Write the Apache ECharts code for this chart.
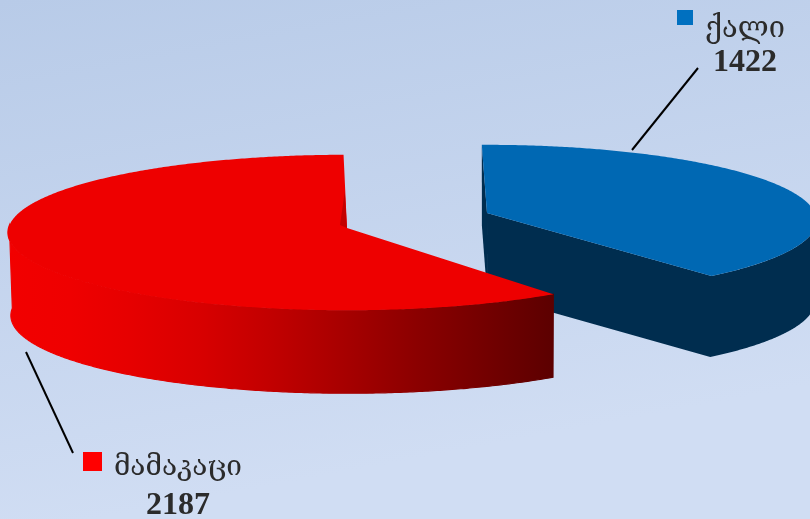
<!DOCTYPE html>
<html>
<head>
<meta charset="utf-8">
<style>html,body{margin:0;padding:0;background:#c4d4ee}#c{width:810px;height:519px}</style>
<script src="https://cdn.jsdelivr.net/npm/echarts@6/dist/echarts.min.js"></script>
</head>
<body>
<div id="c"></div>
<script>
// ---- data ----
var categories = ['ქალი', 'მამაკაცი'];
var values = [1422, 2187];

// ---- colours ----
var topColors = ['#0068b3', '#ee0000'];
var swatchColors = ['#0070c0', '#ff0000'];
var textColor = '#2b2b2b';
var blueWall = '#002d4f';
var redWallStops = [
  [8, '#f20000'], [70, '#ef0000'], [130, '#e60000'], [200, '#d80000'], [270, '#c20000'],
  [320, '#b00000'], [420, '#8a0000'], [553, '#5c0000']
];

// ---- 3D look of each slice (projection only, angles come from the values) ----
var slices = [
  { ax: 487, ay: 213, rx: 328, ry: 75, k: 0.1, start: -1, sweepScale: 1, depth: 81 },
  { ax: 347, ay: 228, rx: 338.5, ry: 77.5, k: 0.058, start: 144.5, sweepScale: 0.985, depth: 83 }
];
var vanishX = 500, shrink = 0.006;
var rightExtreme = 96, leftExtreme = 272;

var labels = [
  { swatch: [677, 10, 16, 15], nameX: 745, nameY: 29, nameSize: 29, valY: 63, line: [698, 68, 632, 150] },
  { swatch: [83, 452, 19, 19], nameX: 178, nameY: 468, nameSize: 28, valY: 506, line: [26, 352, 73, 453] }
];

var total = values.reduce(function (a, b) { return a + b; }, 0);

function project(g, deg, depth) {
  var t = deg * Math.PI / 180, u = Math.sin(t), v = -Math.cos(t), s = 1 / (1 - g.k * v);
  return lift(g.ax + g.rx * u * s, g.ay + g.ry * v * s, depth);
}
function lift(x, y, depth) {
  return depth ? [x + (vanishX - x) * shrink, y + depth] : [x, y];
}
function arc(g, a, b, depth) {
  var pts = [], n = Math.max(2, Math.ceil(Math.abs(b - a) * 2));
  for (var i = 0; i <= n; i++) pts.push(project(g, a + (b - a) * i / n, depth));
  return pts;
}
function poly(points, fill, seam) {
  return { type: 'polygon', shape: { points: points }, style: { fill: fill, stroke: seam ? fill : null, lineWidth: seam ? 1.2 : 0 }, silent: true };
}
function renderSlice(params, api) {
  var i = params.dataIndex, g = slices[i], value = api.value(0);
  var a = g.start, b = a + value / total * 360 * g.sweepScale;
  var apex = [g.ax, g.ay], apexLow = lift(g.ax, g.ay, g.depth);
  var kids = [];
  if (i === 0) {
    var rimA = project(g, a);
    // start-cut face, then end-cut face plus outer rim, both reaching under the top face
    kids.push(poly([apex, rimA, project(g, a, g.depth), apexLow], blueWall));
    kids.push(poly([apex, apexLow].concat(arc(g, b, rightExtreme, g.depth), arc(g, rightExtreme, b)), blueWall));
  } else {
    var stops = redWallStops.map(function (s) {
      return { offset: (s[0] - 8) / (553 - 8), color: s[1] };
    });
    var grad = { type: 'linear', x: 8, y: 0, x2: 553, y2: 0, global: true, colorStops: stops };
    kids.push(poly(arc(g, a, leftExtreme).concat(arc(g, leftExtreme, a, g.depth)), grad, true));
  }
  kids.push(poly([apex].concat(arc(g, a, b)), topColors[i]));
  if (i === 1) {
    // small darker sliver on the cut edge of the red slice
    var rim = project(g, b);
    kids.push(poly([[(apex[0] + rim[0]) / 2 - 0.5, (apex[1] + rim[1]) / 2], apex, [apex[0] - 7, apex[1] - 3]], '#c40000'));
  }
  var L = labels[i];
  kids.push({ type: 'line', shape: { x1: L.line[0], y1: L.line[1], x2: L.line[2], y2: L.line[3] }, style: { stroke: '#000', lineWidth: 2 } });
  kids.push({ type: 'rect', shape: { x: L.swatch[0], y: L.swatch[1], width: L.swatch[2], height: L.swatch[3] }, style: { fill: swatchColors[i] } });
  kids.push({ type: 'text', style: { text: categories[i], x: L.nameX, y: L.nameY, align: 'center', verticalAlign: 'middle', fill: textColor, font: L.nameSize + 'px "DejaVu Serif","DejaVu Sans",serif' } });
  kids.push({ type: 'text', style: { text: String(value), x: L.nameX, y: L.valY, align: 'center', verticalAlign: 'middle', fill: textColor, font: 'bold 32px "Liberation Serif",serif' } });
  return { type: 'group', children: kids };
}

var chart = echarts.init(document.getElementById('c'), null, { renderer: 'canvas' });
chart.setOption({
  animation: false,
  backgroundColor: new echarts.graphic.LinearGradient(0, 0, 0.12, 1, [
    { offset: 0, color: '#b8cbe8' },
    { offset: 1, color: '#d0ddf3' }
  ]),
  series: [{
    type: 'custom',
    coordinateSystem: 'none',
    renderItem: renderSlice,
    clip: false,
    silent: true,
    data: values.map(function (v, i) { return { name: categories[i], value: [v] }; })
  }]
});
</script>
</body>
</html>
